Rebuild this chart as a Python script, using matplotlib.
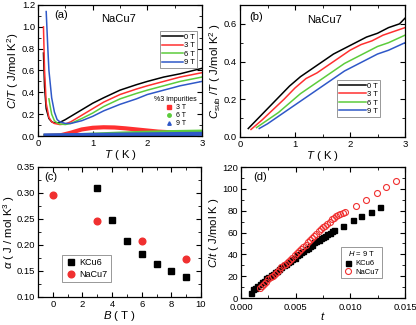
import matplotlib.pyplot as plt
from matplotlib.lines import Line2D
from matplotlib.ticker import MultipleLocator

plt.rcParams['font.family'] = ['Liberation Sans', 'DejaVu Sans']
plt.rcParams['mathtext.fontset'] = 'custom'
plt.rcParams['mathtext.rm'] = 'Liberation Sans'
plt.rcParams['mathtext.it'] = 'Liberation Sans:italic'

# panel (a): C/T of NaCu7
field_labels = ["0 T", "3 T", "6 T", "9 T"]
field_colors = ["black", "#ff3030", "#5ccc3c", "#2f58c8"]

a_T0 = [0.1, 0.12, 0.15, 0.2, 0.25, 0.3, 0.35, 0.4, 0.5, 0.6, 0.8, 1.0, 1.2, 1.5, 1.8, 2.0, 2.3, 2.6, 3.0]
a_C0 = [0.76, 0.45, 0.25, 0.16, 0.13, 0.12, 0.12, 0.125, 0.15, 0.18, 0.24, 0.30, 0.35, 0.42, 0.47, 0.50, 0.54, 0.57, 0.62]
a_T3 = [0.1, 0.12, 0.15, 0.2, 0.25, 0.3, 0.4, 0.5, 0.6, 0.8, 1.0, 1.2, 1.5, 1.8, 2.0, 2.3, 2.6, 3.0]
a_C3 = [1.0, 0.6, 0.3, 0.17, 0.13, 0.115, 0.105, 0.11, 0.13, 0.19, 0.25, 0.31, 0.38, 0.43, 0.46, 0.50, 0.54, 0.58]
a_T6 = [0.2, 0.22, 0.25, 0.3, 0.35, 0.4, 0.5, 0.6, 0.8, 1.0, 1.2, 1.5, 1.8, 2.0, 2.3, 2.6, 3.0]
a_C6 = [0.34, 0.28, 0.2, 0.14, 0.12, 0.11, 0.105, 0.115, 0.16, 0.21, 0.27, 0.34, 0.39, 0.42, 0.46, 0.50, 0.54]
a_T9 = [0.15, 0.18, 0.2, 0.25, 0.3, 0.35, 0.4, 0.5, 0.6, 0.8, 1.0, 1.2, 1.5, 1.8, 2.0, 2.3, 2.6, 3.0]
a_C9 = [1.14, 0.8, 0.6, 0.35, 0.22, 0.15, 0.13, 0.115, 0.115, 0.14, 0.18, 0.23, 0.29, 0.34, 0.38, 0.42, 0.46, 0.50]

imp_T3 = [0.1, 0.4, 0.6, 0.8, 1.0, 1.2, 1.4, 1.6, 1.8, 2.0, 2.2, 2.5, 3.0]
imp_C3 = [0.0, 0.005, 0.03, 0.06, 0.075, 0.08, 0.078, 0.07, 0.06, 0.05, 0.04, 0.032, 0.028]
imp_T6 = [0.1, 0.5, 1.0, 1.5, 2.0, 2.5, 3.0]
imp_C6 = [0.0, 0.003, 0.012, 0.022, 0.03, 0.036, 0.04]
imp_T9 = [0.1, 1.0, 2.0, 3.0]
imp_C9 = [0.005, 0.01, 0.015, 0.02]

# panel (b): C_sub/T
b_T0 = [0.15, 0.3, 0.5, 0.7, 0.9, 1.1, 1.3, 1.5, 1.7, 1.9, 2.1, 2.3, 2.5, 2.7, 2.9, 3.0]
b_C0 = [0.045, 0.09, 0.15, 0.21, 0.27, 0.32, 0.36, 0.40, 0.44, 0.47, 0.50, 0.53, 0.55, 0.58, 0.60, 0.63]
b_T3 = [0.2, 0.4, 0.6, 0.8, 1.0, 1.2, 1.4, 1.6, 1.8, 2.0, 2.2, 2.4, 2.6, 2.8, 3.0]
b_C3 = [0.04, 0.09, 0.145, 0.20, 0.26, 0.31, 0.34, 0.38, 0.42, 0.46, 0.49, 0.51, 0.54, 0.56, 0.58]
b_T6 = [0.3, 0.5, 0.7, 0.9, 1.1, 1.3, 1.5, 1.7, 1.9, 2.1, 2.3, 2.5, 2.7, 3.0]
b_C6 = [0.05, 0.09, 0.13, 0.18, 0.23, 0.27, 0.31, 0.35, 0.39, 0.42, 0.45, 0.48, 0.50, 0.54]
b_T9 = [0.35, 0.5, 0.7, 0.9, 1.1, 1.3, 1.5, 1.7, 1.9, 2.1, 2.3, 2.5, 2.7, 3.0]
b_C9 = [0.045, 0.07, 0.11, 0.15, 0.19, 0.23, 0.27, 0.31, 0.35, 0.38, 0.41, 0.44, 0.46, 0.50]

# panel (c): alpha vs field
k_B = [3, 4, 5, 6, 7, 8, 9]
k_alpha = [0.31, 0.248, 0.207, 0.182, 0.164, 0.150, 0.139]
n_B = [0, 3, 6, 9]
n_alpha = [0.296, 0.246, 0.207, 0.173]

# panel (d): C/t vs t at 9 T
k_t = [0.0009, 0.0011, 0.0013, 0.0015, 0.0017, 0.0019, 0.0021, 0.0023, 0.0025, 0.0027,
       0.0029, 0.0031, 0.0033, 0.0035, 0.0037, 0.0039, 0.0041, 0.0043, 0.0045, 0.0047,
       0.0049, 0.0051, 0.0053, 0.0055, 0.0057, 0.0059, 0.0061, 0.0063, 0.0065, 0.0067,
       0.0069, 0.0071, 0.0073, 0.0075, 0.0077, 0.0079, 0.0081, 0.0083, 0.0085,
       0.0093, 0.0102, 0.0110, 0.0119, 0.0127]
k_Ct = [5, 8, 9, 11, 13, 15, 16, 18, 19, 21,
        22, 24, 25, 27, 28, 30, 31, 33, 34, 36,
        37, 39, 40, 42, 43, 45, 46, 48, 49, 51,
        52, 53, 55, 56, 57, 59, 60, 61, 62,
        66, 71, 75, 79, 83]
n_t = [0.0017, 0.0019, 0.0021, 0.0023, 0.0025, 0.0027, 0.0029, 0.0031, 0.0033, 0.0035,
       0.0037, 0.0039, 0.0041, 0.0043, 0.0045, 0.0047, 0.0049, 0.0051, 0.0053, 0.0055,
       0.0057, 0.0059, 0.0061, 0.0063, 0.0065, 0.0067, 0.0069, 0.0071, 0.0073, 0.0075,
       0.0077, 0.0079, 0.0081, 0.0083, 0.0085, 0.0087, 0.0089, 0.0091, 0.0093, 0.0095,
       0.0105, 0.0114, 0.0124, 0.0133, 0.0142]
n_Ct = [9, 11, 13, 15, 17, 19, 20, 22, 24, 26,
        28, 30, 31, 33, 35, 37, 39, 41, 43, 45,
        47, 49, 51, 53, 55, 57, 59, 61, 63, 65,
        66, 68, 70, 72, 73, 75, 76, 77, 78, 78.5,
        84, 90, 96, 102, 107]

TICK = 6.8
LAB = 8.2


def style(ax, xmaj, xmin, ymaj, ymin):
    ax.xaxis.set_major_locator(MultipleLocator(xmaj))
    ax.xaxis.set_minor_locator(MultipleLocator(xmin))
    ax.yaxis.set_major_locator(MultipleLocator(ymaj))
    ax.yaxis.set_minor_locator(MultipleLocator(ymin))
    ax.tick_params(which='both', direction='in', top=True, right=True, labelsize=TICK, pad=2)
    ax.tick_params(which='major', length=3.5)
    ax.tick_params(which='minor', length=2)
    for s in ax.spines.values():
        s.set_linewidth(0.9)


fig = plt.figure(figsize=(4.16, 3.25), dpi=100)
W, H = 416.0, 325.0


def add_ax(l, r, t, b):
    return fig.add_axes([l / W, 1 - b / H, (r - l) / W, (b - t) / H])


# (a)
ax = add_ax(38, 202, 5, 136)
a_sets = [(a_T0, a_C0), (a_T3, a_C3), (a_T6, a_C6), (a_T9, a_C9)]
lines = []
for (x, y), c, lab in zip(a_sets, field_colors, field_labels):
    lines += ax.plot(x, y, color=c, lw=1.1, label=lab)
imp_sets = [(imp_T3, imp_C3), (imp_T6, imp_C6), (imp_T9, imp_C9)]
for (x, y), c in zip(imp_sets, field_colors[1:]):
    ax.plot(x, y, color=c, lw=3.0, solid_capstyle='butt')
ax.set_xlim(0, 3)
ax.set_ylim(0, 1.2)
style(ax, 1, 0.5, 0.2, 0.1)
ax.set_xlabel(r"$T$ ( K )", fontsize=LAB, labelpad=0)
ax.set_ylabel(r"$C/T$ ( J/mol K$^2$)", fontsize=LAB, labelpad=1)
ax.text(0.3, 1.15, "(a)", fontsize=8, va='top')
ax.text(1.15, 1.12, "NaCu7", fontsize=8, va='top')
leg1 = ax.legend(handles=lines, loc='upper right', bbox_to_anchor=(0.995, 0.83), fontsize=5.5,
                 handlelength=2.8, handletextpad=0.1, labelspacing=0.15, borderpad=0.3,
                 fancybox=False, edgecolor='#888888', framealpha=1)
leg1.get_frame().set_linewidth(0.6)
ax.add_artist(leg1)
imp_handles = [Line2D([], [], ls='none', marker=m, color=c, markersize=2.5, label=l)
               for m, c, l in zip(['s', 'o', '^'], field_colors[1:], field_labels[1:])]
ax.legend(handles=imp_handles, title="%3 impurities", title_fontsize=5, loc='lower right',
          bbox_to_anchor=(1.0, 0.03), fontsize=5, frameon=False, handletextpad=0.5,
          labelspacing=0.15, borderpad=0.2, handlelength=1.0)

# (b)
ax = add_ax(240, 405, 5, 137)
b_sets = [(b_T0, b_C0), (b_T3, b_C3), (b_T6, b_C6), (b_T9, b_C9)]
lines = []
for (x, y), c, lab in zip(b_sets, field_colors, field_labels):
    lines += ax.plot(x, y, color=c, lw=1.1, label=lab)
ax.set_xlim(0, 3)
ax.set_ylim(0, 0.7)
style(ax, 1, 0.5, 0.2, 0.1)
ax.set_xlabel(r"$T$ ( K )", fontsize=LAB, labelpad=0)
ax.set_ylabel(r"$C_{\rm sub}$ /$T$ ( J/mol K$^2$ )", fontsize=LAB, labelpad=1)
ax.text(0.16, 0.665, "(b)", fontsize=8, va='top')
ax.text(1.22, 0.645, "NaCu7", fontsize=8, va='top')
leg = ax.legend(handles=lines, loc='lower right', bbox_to_anchor=(0.87, 0.12), fontsize=5.5,
                handlelength=3.5, handletextpad=0.1, labelspacing=0.15, borderpad=0.3,
                fancybox=False, edgecolor='#888888', framealpha=1)
leg.get_frame().set_linewidth(0.6)

# (c)
ax = add_ax(38, 201, 167, 297)
ax.plot(k_B, k_alpha, ls='none', marker='s', color='black', markersize=4.2, label='KCu6')
ax.plot(n_B, n_alpha, ls='none', marker='o', color='#f03030', markersize=4.8, label='NaCu7')
ax.set_xlim(-1, 10)
ax.set_ylim(0.10, 0.35)
style(ax, 2, 1, 0.05, 0.025)
ax.set_xlabel(r"$B$ ( T )", fontsize=LAB, labelpad=0)
ax.set_ylabel(r"$\alpha$ ( J / mol K$^3$ )", fontsize=LAB, labelpad=0)
ax.text(-0.55, 0.34, "(c)", fontsize=8, va='top')
leg = ax.legend(loc='lower left', bbox_to_anchor=(0.12, 0.08), fontsize=6.5, handletextpad=0.4,
                labelspacing=0.3, borderpad=0.35, handlelength=1.2,
                fancybox=False, edgecolor='#888888', framealpha=1)
leg.get_frame().set_linewidth(0.6)

# (d)
ax = add_ax(241, 405, 167, 298)
ax.plot(k_t, k_Ct, ls='none', marker='s', color='black', markersize=3.6, label='KCu6')
ax.plot(n_t, n_Ct, ls='none', marker='o', mfc='none', mec='#f03030', mew=0.8,
        markersize=4.3, label='NaCu7')
ax.set_xlim(0, 0.015)
ax.set_ylim(0, 120)
style(ax, 0.005, 0.0025, 20, 10)
ax.tick_params(axis='x', pad=3.5)
ax.xaxis.set_major_formatter(lambda v, p: f"{v:.3f}")
ax.set_xlabel(r"$t$", fontsize=LAB, labelpad=-1)
ax.set_ylabel(r"$C/t$ ( J/mol K )", fontsize=LAB, labelpad=1)
ax.text(0.0011, 115, "(d)", fontsize=8, va='top')
leg = ax.legend(loc='lower right', bbox_to_anchor=(0.88, 0.12), fontsize=5.5, title=r"$H$ = 9 T",
                title_fontsize=5.5, handletextpad=0.4, labelspacing=0.2, borderpad=0.3,
                handlelength=1.2, fancybox=False, edgecolor='#888888', framealpha=1)
leg.get_frame().set_linewidth(0.6)

fig.savefig("out.png", dpi=100)
